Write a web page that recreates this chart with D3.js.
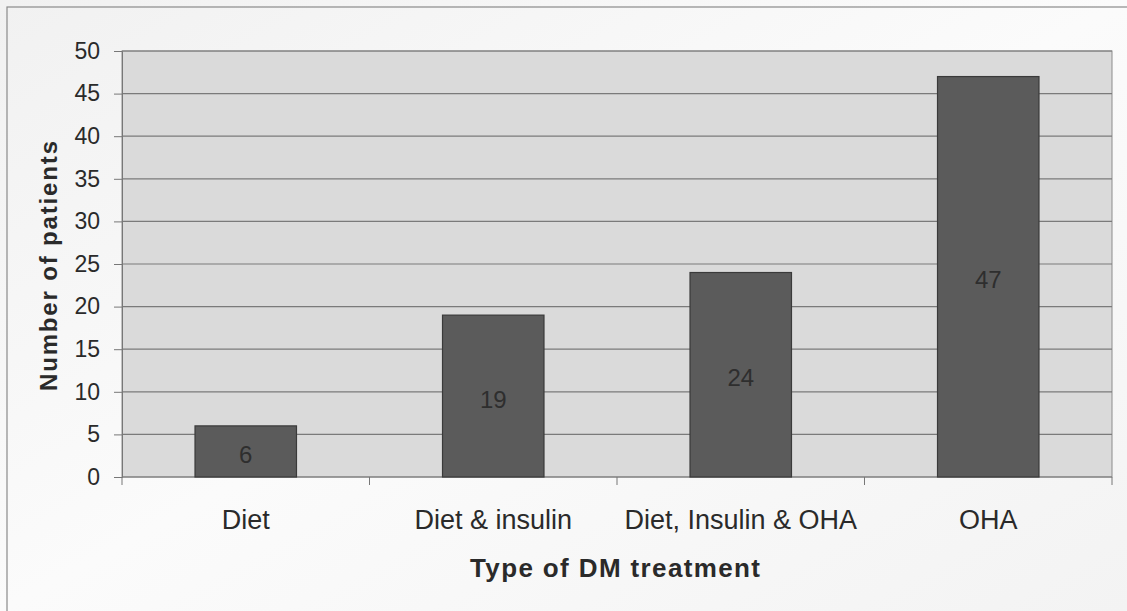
<!DOCTYPE html>
<html>
<head>
<meta charset="utf-8">
<script src="https://cdn.jsdelivr.net/npm/d3@7"></script>
<style>
  body { margin: 0; background: #e9e9e9; }
  svg { display: block; font-family: "Liberation Sans", Arial, sans-serif; }
</style>
</head>
<body>
<script>
// chart data
let categories = ["Diet", "Diet & insulin", "Diet, Insulin & OHA", "OHA"];
let patients = [6, 19, 24, 47];
let yTicks = [0, 5, 10, 15, 20, 25, 30, 35, 40, 45, 50];

let width = 1127, height = 611;
let plot = {left: 122, right: 1112, top: 51, bottom: 477};

let svg = d3.select("body").append("svg")
    .attr("width", width)
    .attr("height", height);

let defs = svg.append("defs");
let pageGrad = defs.append("linearGradient").attr("id", "page")
    .attr("x1", 0).attr("y1", 0).attr("x2", 1).attr("y2", 1);
pageGrad.append("stop").attr("offset", 0).attr("stop-color", "#f1f1f1");
pageGrad.append("stop").attr("offset", 0.5).attr("stop-color", "#fbfbfb");
pageGrad.append("stop").attr("offset", 1).attr("stop-color", "#f3f3f3");

// page / chart frame
svg.append("rect").attr("x", 0).attr("y", 0).attr("width", width).attr("height", height)
    .attr("fill", "url(#page)");
svg.append("rect").attr("x", 7).attr("y", 7).attr("width", width).attr("height", height)
    .attr("fill", "none").attr("stroke", "#8a8a8a").attr("stroke-width", 1.2);

let x = d3.scaleBand()
    .domain(categories)
    .range([plot.left, plot.right])
    .paddingInner(0.59)
    .paddingOuter(0.295);

let y = d3.scaleLinear()
    .domain([0, 50])
    .range([plot.bottom, plot.top]);

// plot area
svg.append("rect")
    .attr("x", plot.left).attr("y", plot.top)
    .attr("width", plot.right - plot.left).attr("height", plot.bottom - plot.top)
    .attr("fill", "#dadada").attr("stroke", "#8c8c8c");

// gridlines
svg.append("g").selectAll("line")
    .data(yTicks.filter(d => d > 0))
    .join("line")
    .attr("x1", plot.left).attr("x2", plot.right)
    .attr("y1", d => y(d)).attr("y2", d => y(d))
    .attr("stroke", "#7a7a7a").attr("stroke-width", 1.2);

// y axis
let yAxis = svg.append("g")
    .attr("transform", `translate(${plot.left},0)`)
    .call(d3.axisLeft(y).tickValues(yTicks).tickSize(8).tickPadding(14));
yAxis.select(".domain").attr("stroke", "#777");
yAxis.selectAll(".tick line").attr("stroke", "#777");
yAxis.selectAll("text").attr("font-size", 23).attr("fill", "#2a2a2a")
    .attr("font-family", "Liberation Sans, Arial, sans-serif");

// x axis: ticks at category boundaries
let xAxis = svg.append("g")
    .attr("transform", `translate(0,${plot.bottom})`);
xAxis.append("line")
    .attr("x1", plot.left).attr("x2", plot.right)
    .attr("stroke", "#777");
let step = x.step();
xAxis.selectAll(".bound")
    .data(d3.range(categories.length + 1))
    .join("line")
    .attr("class", "bound")
    .attr("x1", i => plot.left + i * step).attr("x2", i => plot.left + i * step)
    .attr("y1", 0).attr("y2", 8)
    .attr("stroke", "#777");
xAxis.selectAll("text")
    .data(categories)
    .join("text")
    .attr("x", d => x(d) + x.bandwidth() / 2)
    .attr("y", 52)
    .attr("text-anchor", "middle")
    .attr("font-size", 27)
    .attr("fill", "#2a2a2a")
    .text(d => d);

// bars
svg.append("g").selectAll("rect")
    .data(patients)
    .join("rect")
    .attr("x", (d, i) => x(categories[i]))
    .attr("y", d => y(d))
    .attr("width", x.bandwidth())
    .attr("height", d => y(0) - y(d))
    .attr("fill", "#5b5b5b")
    .attr("stroke", "#3a3a3a")
    .attr("stroke-width", 1.2);

// value labels
svg.append("g").selectAll("text")
    .data(patients)
    .join("text")
    .attr("x", (d, i) => x(categories[i]) + x.bandwidth() / 2)
    .attr("y", d => (y(d) + y(0)) / 2 + 3)
    .attr("dy", "0.36em")
    .attr("text-anchor", "middle")
    .attr("font-size", 24)
    .attr("fill", "#2e2e2e")
    .text(d => d);

// axis titles
svg.append("text")
    .attr("transform", `translate(57,266) rotate(-90)`)
    .attr("text-anchor", "middle")
    .attr("font-size", 24)
    .attr("font-weight", "bold")
    .attr("textLength", 250)
    .attr("fill", "#2a2a2a")
    .text("Number of patients");

svg.append("text")
    .attr("x", 615)
    .attr("y", 577)
    .attr("text-anchor", "middle")
    .attr("font-size", 26)
    .attr("font-weight", "bold")
    .attr("textLength", 290)
    .attr("fill", "#2a2a2a")
    .text("Type of DM treatment");
</script>
</body>
</html>
